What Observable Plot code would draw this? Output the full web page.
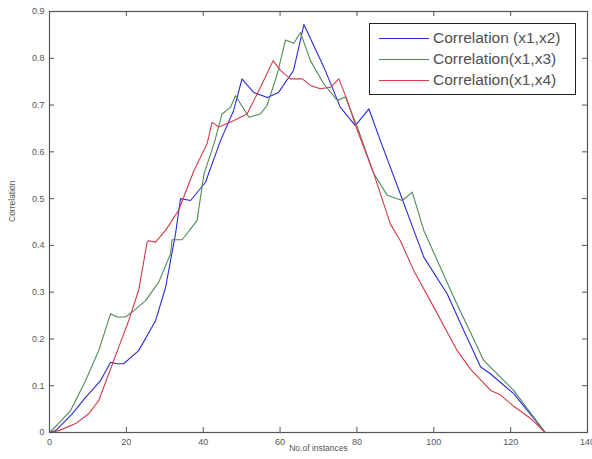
<!DOCTYPE html>
<html>
<head>
<meta charset="utf-8">
<script src="https://cdn.jsdelivr.net/npm/d3@7"></script>
<script src="https://cdn.jsdelivr.net/npm/@observablehq/plot@0.6"></script>
<style>
  html, body { margin: 0; padding: 0; background: #fff; }
  #wrap { position: relative; width: 592px; height: 459px; overflow: hidden; }
  #legend { position: absolute; left: 369px; top: 23px; width: 207px; height: 72px;
    border: 1px solid #222; background: #fff; font-family: "Liberation Sans", Arial, sans-serif;
    font-size: 15.5px; color: #505050; box-sizing: border-box; }
  .row { position: absolute; left: 9px; height: 20px; white-space: nowrap; line-height: 20px; }
  .row svg { vertical-align: middle; margin-right: 4px; }
</style>
</head>
<body>
<div id="wrap"></div>
<script>
// Data
const seriesNames = ["Correlation (x1,x2)", "Correlation(x1,x3)", "Correlation(x1,x4)"];
const seriesColors = ["#2a2ad8", "#4e8a58", "#d23a48"];

const x12 = [0,1.6,5.9,9.4,13.3,15.9,17.5,19.3,23.2,27.6,30.2,32.8,34.1,36.7,40.6,44.5,47.9,50.1,53.1,56.7,59.6,63.5,66.2,71.4,75.7,79.6,83.1,86.1,91.3,94.8,97.4,103.5,107.8,112.2,114.8,120.8,129];
const y12 = [0,0.004,0.04,0.075,0.111,0.15,0.147,0.147,0.175,0.239,0.31,0.425,0.50,0.496,0.535,0.624,0.688,0.756,0.727,0.716,0.727,0.774,0.872,0.781,0.695,0.656,0.692,0.624,0.51,0.432,0.375,0.296,0.218,0.14,0.125,0.083,0];

const x13 = [0,3,5.5,9.4,12.8,15.9,17.6,19.8,21.9,25,28.4,31.5,31.9,34.5,38.4,40.2,42.8,44.9,47.1,48.4,51.9,54.9,56.6,59.3,61.4,63.6,65.3,67.9,71.4,74.9,77,80.1,84.4,87.9,91.8,94.4,97.4,105.2,113,117.4,120.8,129];
const y13 = [0,0.025,0.047,0.111,0.175,0.254,0.247,0.247,0.26,0.282,0.321,0.382,0.412,0.412,0.453,0.553,0.617,0.681,0.695,0.72,0.674,0.681,0.699,0.767,0.839,0.832,0.855,0.795,0.745,0.71,0.717,0.653,0.553,0.507,0.496,0.514,0.432,0.289,0.154,0.118,0.09,0];

const x14 = [0,2.4,6.8,10.2,12.8,15.4,18,20.6,23.2,25.4,25.8,27.6,30.2,33.6,37.6,41,42.3,44.1,48,51.4,54.9,58.2,60.1,62.7,65.8,67.9,70.5,73.1,75.3,77.5,80.1,84.4,88.7,91.3,94.8,100,106.1,109.6,114.8,117.4,120.8,125.2,129];
const y14 = [0,0.004,0.019,0.04,0.068,0.125,0.182,0.239,0.304,0.407,0.41,0.407,0.432,0.475,0.56,0.617,0.663,0.653,0.667,0.681,0.738,0.795,0.774,0.756,0.756,0.742,0.735,0.738,0.756,0.71,0.646,0.553,0.446,0.41,0.346,0.268,0.175,0.135,0.09,0.08,0.056,0.03,0];

const xTicks = [0,20,40,60,80,100,120,140];
const yTicks = [0,0.1,0.2,0.3,0.4,0.5,0.6,0.7,0.8,0.9];
const xLabel = "No.of instances";
const yLabel = "Correlation";

const W = 592, H = 459, mL = 49, mT = 11, mR = 5, mB = 27;
const innerW = W - mL - mR, innerH = H - mT - mB;
const tickLen = 5;

const rows = [];
[[x12, y12], [x13, y13], [x14, y14]].forEach(([xs, ys], i) => {
  xs.forEach((x, j) => rows.push({series: seriesNames[i], x, y: ys[j]}));
});

const chart = Plot.plot({
  width: W, height: H,
  marginLeft: mL, marginTop: mT, marginRight: mR, marginBottom: mB,
  style: {fontFamily: "'Liberation Sans', Arial, sans-serif", fontSize: "9px", color: "#555", background: "#fff", overflow: "visible"},
  x: {domain: [0, 140]},
  y: {domain: [0, 0.9]},
  color: {domain: seriesNames, range: seriesColors},
  marks: [
    Plot.line(rows, {x: "x", y: "y", z: "series", stroke: "series", strokeWidth: 1.1}),
    Plot.tickX(xTicks, {x: d => d, insetTop: innerH - tickLen, stroke: "#555"}),
    Plot.tickX(xTicks, {x: d => d, insetBottom: innerH - tickLen, stroke: "#555"}),
    Plot.tickY(yTicks, {y: d => d, insetRight: innerW - tickLen, stroke: "#555"}),
    Plot.tickY(yTicks, {y: d => d, insetLeft: innerW - tickLen, stroke: "#555"}),
    Plot.frame({stroke: "#555", strokeWidth: 1.2}),
    Plot.axisX(xTicks, {tickSize: 0, tickPadding: 6, tickFormat: d => String(d), label: null, fontSize: 9}),
    Plot.axisY(yTicks, {tickSize: 0, tickPadding: 5, tickFormat: d => d === 0 ? "0" : String(d), label: null, fontSize: 9}),
    Plot.text([xLabel], {text: d => d, frameAnchor: "bottom", dy: 18, fontSize: 8.5, fill: "#555"}),
    Plot.text([yLabel], {text: d => d, frameAnchor: "left", dx: -37, rotate: -90, fontSize: 8.5, fill: "#555"})
  ]
});
document.getElementById("wrap").appendChild(chart);

const legend = document.createElement("div");
legend.id = "legend";
seriesNames.forEach((name, i) => {
  const r = document.createElement("div");
  r.className = "row";
  r.style.top = [4, 25, 46][i] + "px";
  r.innerHTML = `<svg width="50" height="3"><line x1="0" x2="50" y1="1.5" y2="1.5" stroke="${seriesColors[i]}" stroke-width="1.2"/></svg><span>${name}</span>`;
  legend.appendChild(r);
});
document.getElementById("wrap").appendChild(legend);
</script>
</body>
</html>
